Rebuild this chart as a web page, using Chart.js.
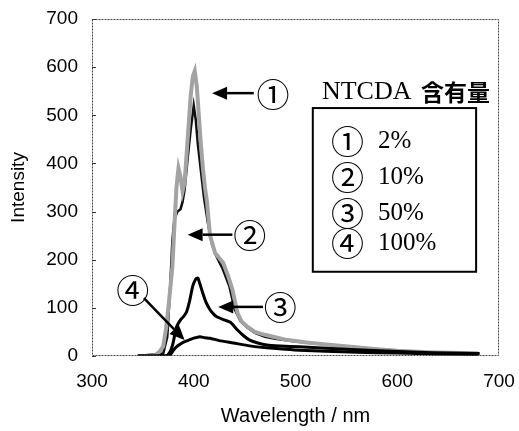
<!DOCTYPE html>
<html>
<head>
<meta charset="utf-8">
<script src="https://cdn.jsdelivr.net/npm/chart.js@4/dist/chart.umd.min.js"></script>
<style>
html,body{margin:0;padding:0;background:#fff;}
canvas{display:block;}
</style>
</head>
<body>
<canvas id="c" width="519" height="431" style="width:519px;height:431px"></canvas>
<script>
// ---- data ----
const xTicks = [300, 400, 500, 600, 700];
const yTicks = [0, 100, 200, 300, 400, 500, 600, 700];

// 1: 2%
const wl1  = [345, 355, 362, 366, 370, 373, 376, 379, 381, 383, 385, 387, 389, 391, 393, 395, 397, 399, 401, 403, 405, 407, 409, 411, 413, 416, 421, 429, 434, 438, 443, 447, 452, 460, 470, 478, 490, 500, 511, 530, 554, 580, 600, 630, 660, 680];
const int1 = [0, 0, 2, 8, 20, 60, 120, 185, 270, 350, 390, 372, 342, 360, 420, 480, 540, 580, 592, 560, 500, 440, 390, 350, 320, 250, 214, 193, 165, 138, 89, 72, 62, 50, 44, 40, 34, 31, 28, 24, 19, 14, 11, 8, 6, 5];
// 2: 10%
const wl2  = [345, 370, 374, 377, 379, 381, 384, 387, 389, 391, 394, 397, 400, 402, 404, 407, 410, 414, 418, 422, 428, 435, 440, 446, 452, 460, 470, 480, 500, 530, 560, 600, 640, 680];
const int2 = [0, 5, 40, 150, 240, 285, 300, 305, 320, 345, 410, 470, 520, 490, 440, 385, 330, 275, 232, 208, 183, 145, 98, 72, 60, 48, 40, 36, 30, 24, 18, 11, 7, 4];
// 3: 50%
const wl3  = [345, 372, 375, 378, 380, 383, 387, 390, 393, 396, 399, 402, 404, 406, 409, 412, 416, 420, 423, 430, 436, 443, 449, 455, 463, 472, 485, 504, 530, 560, 583, 620, 650, 681];
const int3 = [0, 0, 3, 15, 30, 60, 75, 82, 92, 115, 145, 160, 162, 150, 130, 112, 96, 86, 81, 75, 70, 54, 42, 33, 27, 23, 21, 19, 16, 13, 11, 8, 6, 5];
// 4: 100%
const wl4  = [345, 374, 377, 380, 383, 387, 390, 395, 400, 406, 411, 416, 425, 439, 455, 472, 490, 504, 530, 560, 600, 640, 680];
const int4 = [0, 0, 3, 12, 19, 25, 29, 33, 37, 40, 38, 37, 32, 27, 21, 17, 14, 12, 10, 8, 6, 4, 3];

const seriesLabels = ['2%', '10%', '50%', '100%'];
const circled = ['①', '②', '③', '④'];
const legendTitle = ['NTCDA', '含有量'];

function pts(xs, ys) { return xs.map((x, i) => ({x: x, y: ys[i]})); }

// annotation anchors, in data units (wavelength, intensity)
const arrowsData = [
  {tip: [418, 546], tail: [459, 546], label: [478, 546], n: 0},
  {tip: [394, 252], tail: [438, 252], label: [455, 252], n: 1},
  {tip: [424, 102], tail: [468, 102], label: [485, 102], n: 2},
  {tip: [391, 33],  tail: [351, 120], label: [340, 138], n: 3}
];

const annot = {
  id: 'annot',
  afterDatasetsDraw(chart) {
    const {ctx, chartArea: a, scales: {x, y}} = chart;
    const px = v => x.getPixelForValue(v), py = v => y.getPixelForValue(v);
    ctx.save();
    // frame (dotted)
    ctx.strokeStyle = '#444';
    ctx.lineWidth = 1;
    ctx.setLineDash([2, 1]);
    ctx.strokeRect(a.left + 0.5, a.top + 0.5, a.right - a.left - 1, a.bottom - a.top - 1);
    ctx.setLineDash([]);
    // inner ticks on left axis
    ctx.strokeStyle = '#333';
    yTicks.forEach(v => {
      const yy = Math.round(py(v)) + 0.5;
      ctx.beginPath(); ctx.moveTo(a.left, yy); ctx.lineTo(a.left + 4, yy); ctx.stroke();
    });
    // arrows
    ctx.strokeStyle = '#000'; ctx.fillStyle = '#000';
    arrowsData.forEach(ad => {
      const tx = px(ad.tip[0]), ty = py(ad.tip[1]);
      const sx = px(ad.tail[0]), sy = py(ad.tail[1]);
      const ang = Math.atan2(ty - sy, tx - sx);
      const hl = 15, hw = 6.5;
      const bx = tx - hl * Math.cos(ang), by = ty - hl * Math.sin(ang);
      ctx.lineWidth = 2.5;
      ctx.beginPath(); ctx.moveTo(sx, sy); ctx.lineTo(bx, by); ctx.stroke();
      ctx.beginPath();
      ctx.moveTo(tx, ty);
      ctx.lineTo(bx + hw * Math.sin(ang), by - hw * Math.cos(ang));
      ctx.lineTo(bx - hw * Math.sin(ang), by + hw * Math.cos(ang));
      ctx.closePath(); ctx.fill();
      ctx.font = '33px "Noto Sans CJK JP"';
      ctx.textAlign = 'center'; ctx.textBaseline = 'middle';
      ctx.fillText(circled[ad.n], px(ad.label[0]), py(ad.label[1]) + 1);
    });
    // title text
    ctx.textAlign = 'left'; ctx.textBaseline = 'middle';
    ctx.font = '26px "Liberation Serif"';
    const tX = px(526), tY = py(548);
    ctx.fillText(legendTitle[0], tX, tY);
    const w0 = ctx.measureText(legendTitle[0] + ' ').width;
    ctx.font = 'bold 23px "Noto Sans CJK JP"';
    ctx.fillText(legendTitle[1], tX + w0 + 3, tY);
    // legend box
    const bl = px(517), br = px(677.5), bt = py(515), bb = py(175);
    ctx.lineWidth = 2;
    ctx.strokeRect(bl, bt, br - bl, bb - bt);
    const rows = [448, 373, 299, 236];
    rows.forEach((r, i) => {
      ctx.font = '33px "Noto Sans CJK JP"';
      ctx.textAlign = 'center';
      ctx.fillText(circled[i], px(551), py(r) + 1);
      ctx.font = '25px "Liberation Serif"';
      ctx.textAlign = 'left';
      ctx.fillText(seriesLabels[i], px(581), py(r) + 1);
    });
    ctx.restore();
  }
};

const tickFont = {family: '"Liberation Sans", Arial, sans-serif', size: 19};

new Chart(document.getElementById('c'), {
  type: 'line',
  data: {
    datasets: [
      {label: seriesLabels[0], data: pts(wl1, int1), borderColor: '#a3a3a3', borderWidth: 4, pointRadius: 0, tension: 0, order: 2},
      {label: seriesLabels[1], data: pts(wl2, int2), borderColor: '#111', borderWidth: 2.5, pointRadius: 0, tension: 0, order: 3},
      {label: seriesLabels[2], data: pts(wl3, int3), borderColor: '#000', borderWidth: 3, pointRadius: 0, tension: 0.2, order: 1},
      {label: seriesLabels[3], data: pts(wl4, int4), borderColor: '#000', borderWidth: 3, pointRadius: 0, tension: 0.2, order: 0}
    ]
  },
  options: {
    responsive: false,
    animation: false,
    layout: {padding: {left: 0, top: 19, right: 20, bottom: 0}},
    plugins: {legend: {display: false}, tooltip: {enabled: false}},
    scales: {
      x: {
        type: 'linear', min: 300, max: 700,
        afterBuildTicks: s => { s.ticks = xTicks.map(v => ({value: v})); },
        ticks: {padding: 14, font: tickFont, color: '#000', maxRotation: 0, autoSkip: false},
        grid: {display: false, drawTicks: false},
        border: {display: false},
        title: {display: true, text: 'Wavelength / nm', color: '#000',
                font: {family: '"Liberation Sans", Arial, sans-serif', size: 20}, padding: {top: 0, bottom: 3}},
        afterFit: s => { s.height = 75; s.paddingLeft = 0; s.paddingRight = 0; }
      },
      y: {
        type: 'linear', min: 0, max: 700,
        afterBuildTicks: s => { s.ticks = yTicks.map(v => ({value: v})); },
        ticks: {padding: 14, font: tickFont, color: '#000', autoSkip: false},
        grid: {display: false, drawTicks: false},
        border: {display: false},
        title: {display: true, text: 'Intensity', color: '#000',
                font: {family: '"Liberation Sans", Arial, sans-serif', size: 19}, padding: {top: 7, bottom: 0}},
        afterFit: s => { s.width = 92; s.paddingTop = 0; s.paddingBottom = 0; }
      }
    }
  },
  plugins: [annot]
});
</script>
</body>
</html>
